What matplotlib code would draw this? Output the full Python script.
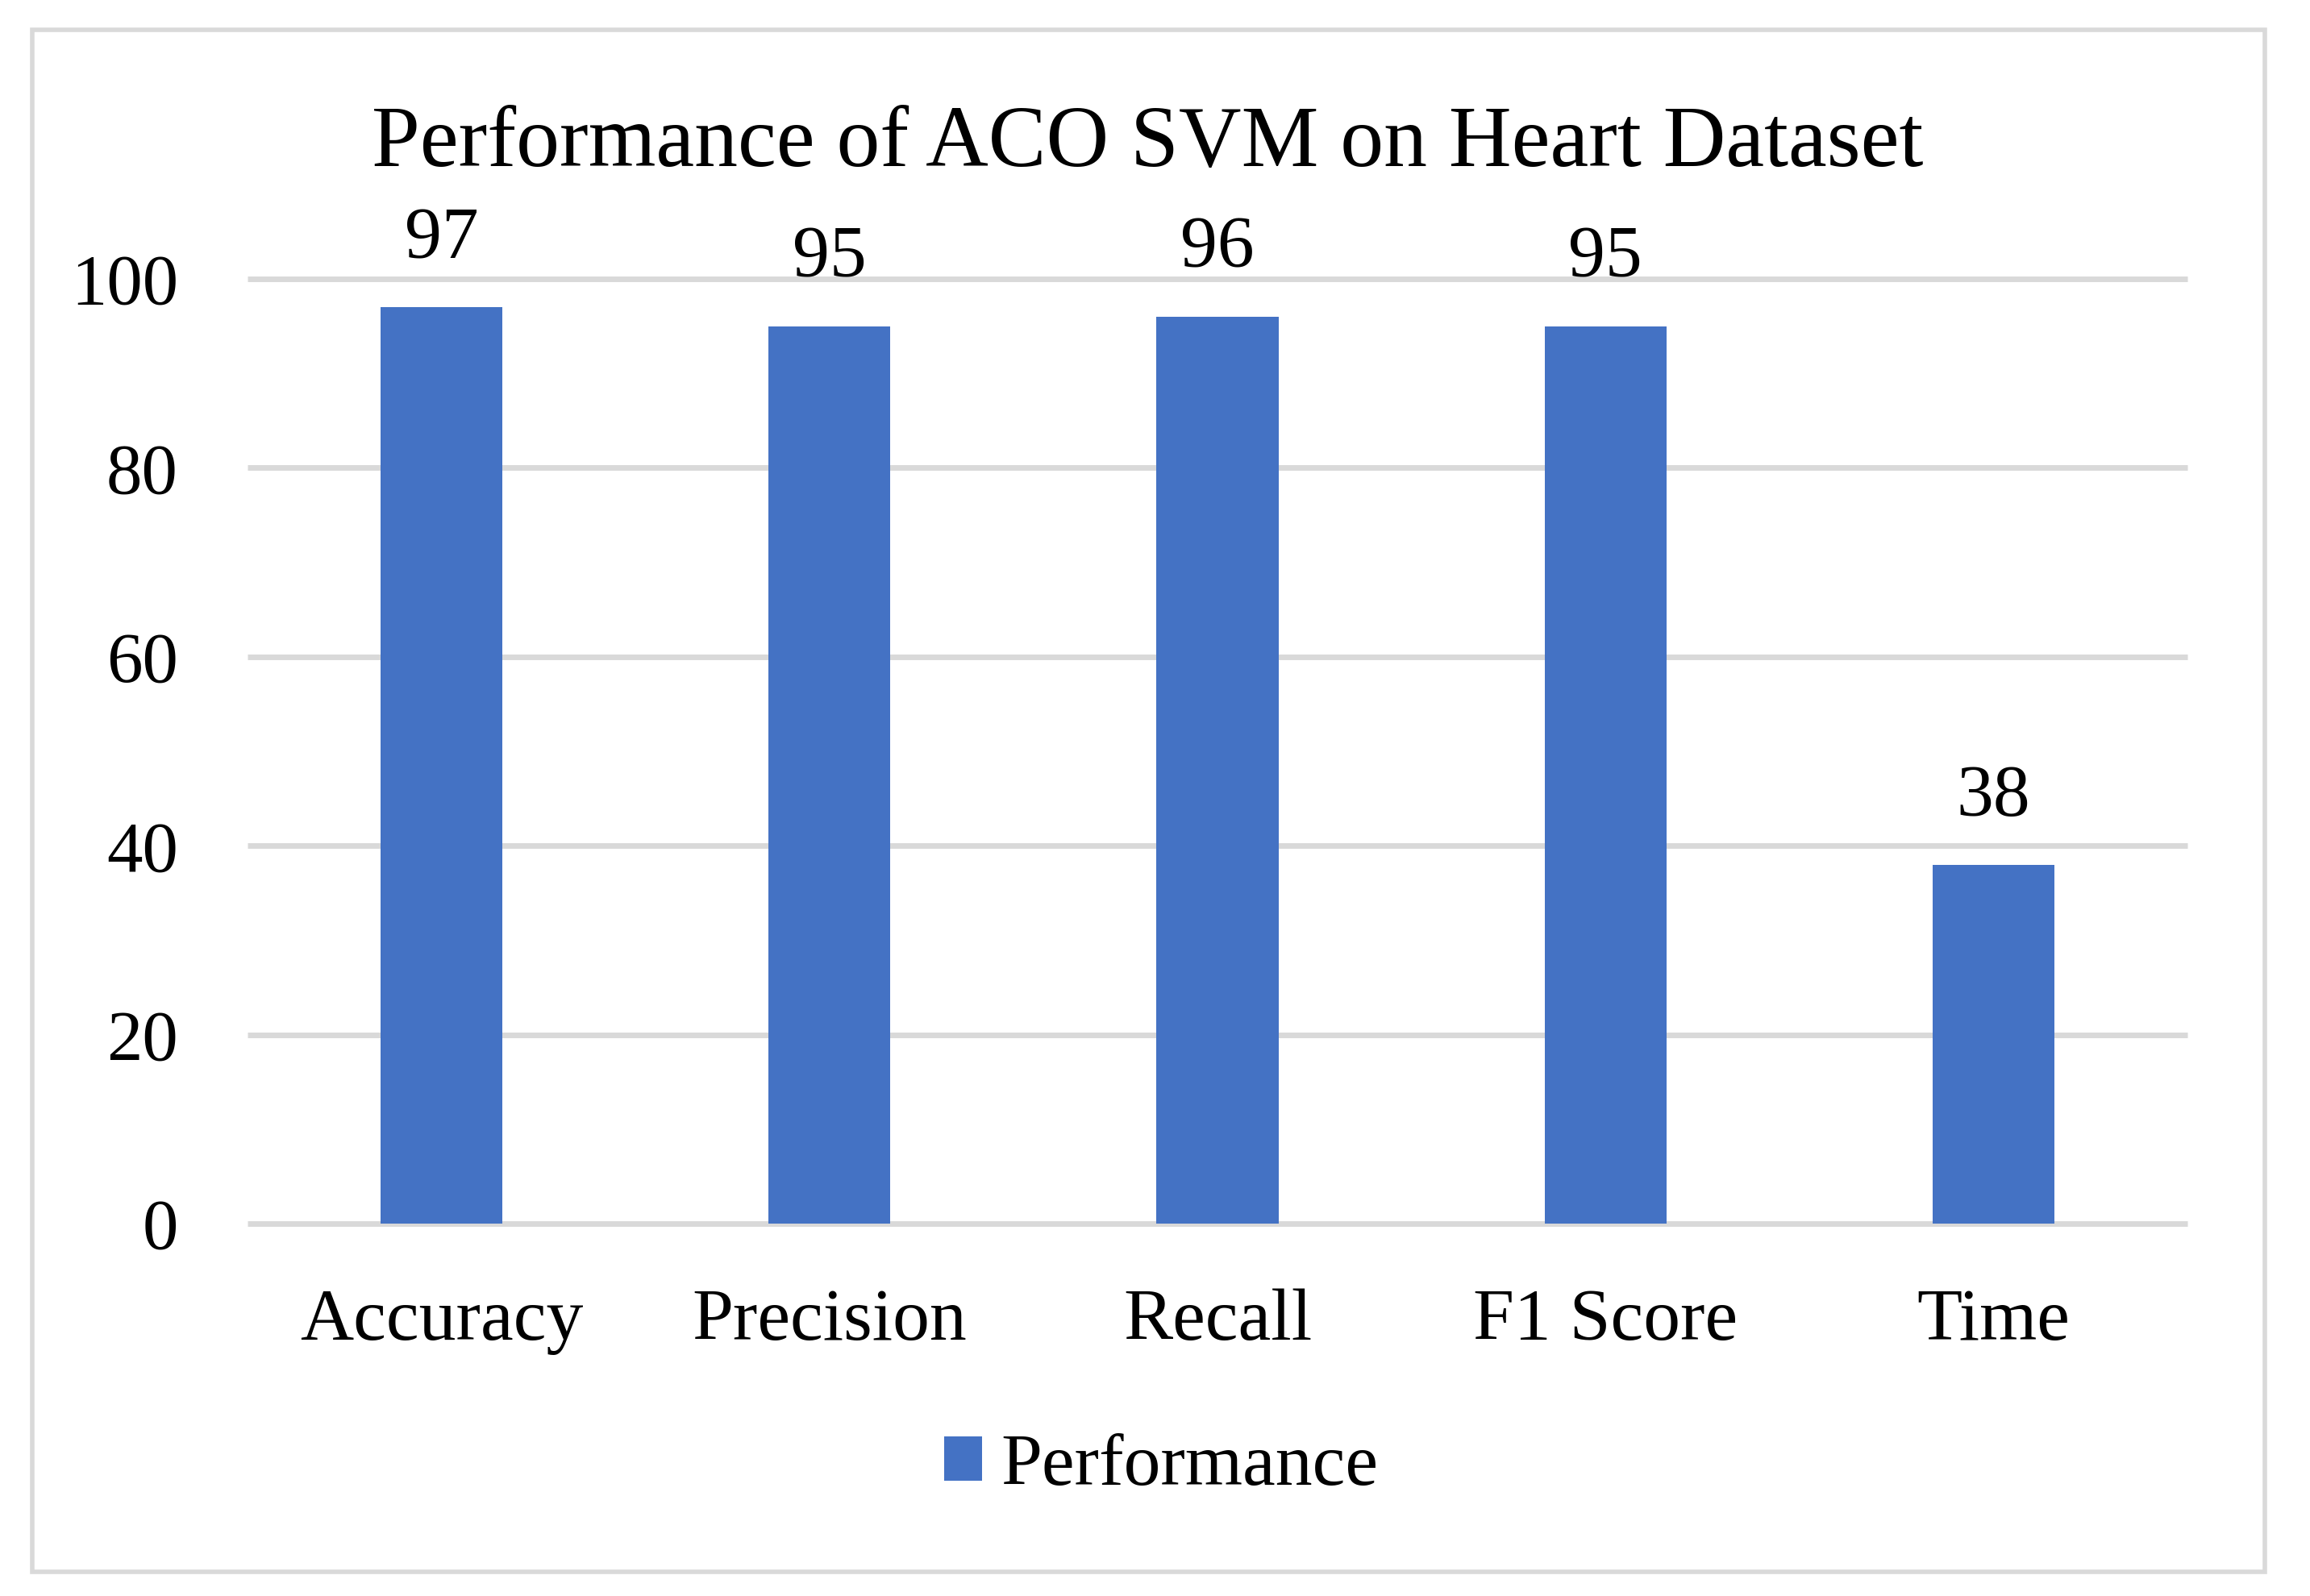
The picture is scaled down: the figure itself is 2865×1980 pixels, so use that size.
import matplotlib
matplotlib.use("Agg")
import matplotlib.pyplot as plt
from matplotlib.patches import Rectangle

categories = ["Accuracy", "Precision", "Recall", "F1 Score", "Time"]
values = [97, 95, 96, 95, 38]
series_name = "Performance"
title = "Performance of ACO SVM on Heart Dataset"
yticks = [0, 20, 40, 60, 80, 100]

plt.rcParams['font.family'] = ['Liberation Serif', 'DejaVu Serif']

W, H = 2865, 1980
fig = plt.figure(figsize=(W / 100, H / 100), dpi=100)
fig.patch.set_facecolor("white")

# outer border
fig.add_artist(Rectangle((40 / W, 1 - 1950 / H), (2809 - 40) / W, (1950 - 37) / H,
                         transform=fig.transFigure, fill=False,
                         edgecolor="#d9d9d9", linewidth=4))

left, right = 307 / W, 2713 / W
bottom, top = 1 - 1518 / H, 1 - 346 / H
ax = fig.add_axes([left, bottom, right - left, top - bottom])

x = list(range(len(categories)))
bars = ax.bar(x, values, width=0.314, color="#4472C4", zorder=3, label=series_name)

ax.set_xlim(-0.5, len(categories) - 0.5)
ax.set_ylim(0, 100)
ax.set_yticks(yticks)
ax.set_yticklabels([str(t) for t in yticks], fontsize=64)
ax.set_xticks(x)
ax.set_xticklabels(categories, fontsize=66)
ax.tick_params(axis="y", length=0, pad=62)
ax.tick_params(axis="x", length=0, pad=58)
for s in ax.spines.values():
    s.set_visible(False)
ax.yaxis.grid(True, color="#d9d9d9", linewidth=5, zorder=0)
ax.set_axisbelow(True)
for gl in ax.get_ygridlines():
    gl.set_clip_on(False)
    gl.set_solid_capstyle("butt")

for xi, v in zip(x, values):
    ax.annotate(str(v), (xi, v), xytext=(0, 44), textcoords="offset points",
                ha="center", va="baseline", fontsize=66, clip_on=False)

fig.text(1423 / W, 1 - 206 / H, title, ha="center", va="baseline", fontsize=77.5)

fig.legend(handles=[bars], labels=[series_name], loc="center",
           bbox_to_anchor=(1440 / W, 1 - 1820 / H), frameon=False, fontsize=66,
           handlelength=0.52, handleheight=0.55, handletextpad=0.25)

fig.savefig("out.png", dpi=100)
